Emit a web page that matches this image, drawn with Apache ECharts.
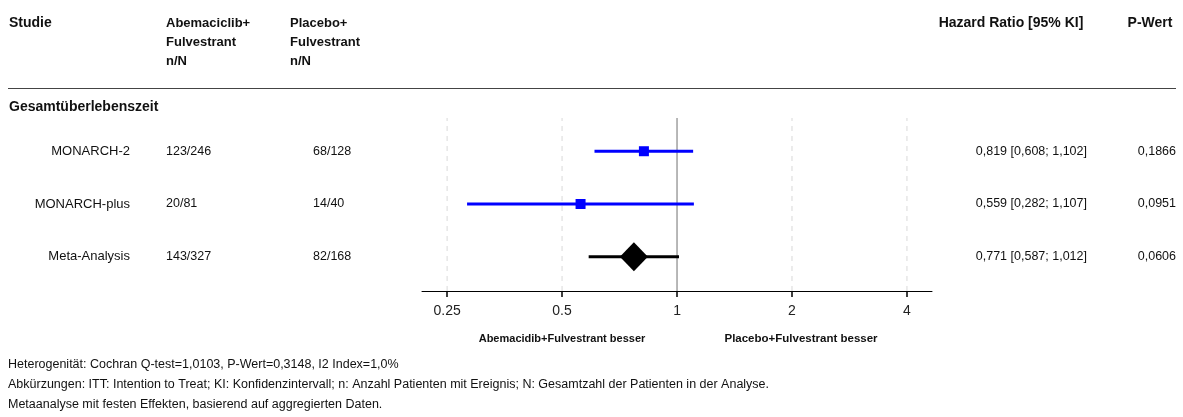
<!DOCTYPE html>
<html>
<head>
<meta charset="utf-8">
<script src="https://cdn.jsdelivr.net/npm/echarts@6/dist/echarts.min.js"></script>
<style>
  html, body { margin: 0; padding: 0; background: #fff; }
  #chart { width: 1183px; height: 417px; }
</style>
</head>
<body>
<div id="chart"></div>
<script>
// Forest plot: overall survival, Abemaciclib+Fulvestrant vs Placebo+Fulvestrant
const studies = ['MONARCH-2', 'MONARCH-plus', 'Meta-Analysis'];
const armA = ['123/246', '20/81', '143/327'];
const armB = ['68/128', '14/40', '82/168'];
const hr = [0.819, 0.559, 0.771];
const ciLow = [0.608, 0.282, 0.587];
const ciHigh = [1.102, 1.107, 1.012];
const pValues = ['0,1866', '0,0951', '0,0606'];
const pooled = [false, false, true];
const rowPos = [3, 2, 1];
const xTicks = [0.25, 0.5, 1, 2, 4];
const refLines = [0.25, 0.5, 2, 4];

const headers = {
  study: 'Studie',
  armA: ['Abemaciclib+', 'Fulvestrant', 'n/N'],
  armB: ['Placebo+', 'Fulvestrant', 'n/N'],
  hr: 'Hazard Ratio [95% KI]',
  p: 'P-Wert'
};
const section = 'Gesamtüberlebenszeit';
const favourLeft = 'Abemacidib+Fulvestrant besser';
const favourRight = 'Placebo+Fulvestrant besser';
const footnotes = [
  'Heterogenität: Cochran Q-test=1,0103, P-Wert=0,3148, I2 Index=1,0%',
  'Abkürzungen: ITT: Intention to Treat; KI: Konfidenzintervall; n: Anzahl Patienten mit Ereignis; N: Gesamtzahl der Patienten in der Analyse.',
  'Metaanalyse mit festen Effekten, basierend auf aggregierten Daten.'
];

const FONT = '"Liberation Sans", Arial, sans-serif';
const yMin = 0.35, yMax = 3.63;
const fmt = v => v.toFixed(3).replace('.', ',');
const hrText = hr.map((v, i) => fmt(v) + ' [' + fmt(ciLow[i]) + '; ' + fmt(ciHigh[i]) + ']');

const chart = echarts.init(document.getElementById('chart'), null, { renderer: 'canvas' });

const vLine = (x, style) => ({
  type: 'line',
  data: [[x, yMin], [x, yMax]],
  symbol: 'none',
  silent: true,
  lineStyle: style,
  z: 1
});

const series = refLines.map(v => vLine(v, { color: '#d9d9d9', width: 1, type: [5, 5] }));
series.push(vLine(1, { color: '#a0a0a0', width: 1.5, type: 'solid' }));
series.push({
  type: 'custom',
  z: 5,
  data: studies.map((s, i) => [ciLow[i], ciHigh[i], hr[i], rowPos[i], pooled[i] ? 1 : 0]),
  encode: { x: [0, 1, 2], y: 3 },
  renderItem: function (params, api) {
    const a = api.coord([api.value(0), api.value(3)]);
    const b = api.coord([api.value(1), api.value(3)]);
    const c = api.coord([api.value(2), api.value(3)]);
    const isPooled = api.value(4) === 1;
    const color = isPooled ? '#000000' : '#0000ff';
    const children = [{
      type: 'line',
      shape: { x1: a[0], y1: a[1], x2: b[0], y2: b[1] },
      style: { stroke: color, lineWidth: 3 }
    }];
    if (isPooled) {
      children.push({
        type: 'polygon',
        shape: { points: [[c[0] - 14, c[1]], [c[0], c[1] - 14.5], [c[0] + 14, c[1]], [c[0], c[1] + 14.5]] },
        style: { fill: color }
      });
    } else {
      children.push({
        type: 'rect',
        shape: { x: c[0] - 5, y: c[1] - 5, width: 10, height: 10 },
        style: { fill: color }
      });
    }
    return { type: 'group', children: children };
  }
});

chart.setOption({
  animation: false,
  backgroundColor: '#ffffff',
  grid: { left: 422, right: 251, top: 118, bottom: 126 },
  xAxis: {
    type: 'log',
    logBase: 2,
    min: 0.2149,
    max: 4.652,
    axisLine: { lineStyle: { color: '#000', width: 1 } },
    axisTick: { customValues: xTicks, length: 6, lineStyle: { color: '#000', width: 1.5 } },
    axisLabel: {
      customValues: xTicks,
      formatter: v => String(+(+v).toPrecision(6)),
      fontFamily: FONT, fontSize: 14, color: '#222', margin: 13
    },
    splitLine: { show: false },
    minorTick: { show: false }
  },
  yAxis: { type: 'value', min: yMin, max: yMax, show: false },
  series: series
});

// Table text placed beside the plot rows
const txt = (x, y, text, opts) => ({
  type: 'text', x: x, y: y, silent: true,
  style: Object.assign({
    text: text, fontFamily: FONT, fontSize: 12.5, fill: '#111',
    align: 'left', verticalAlign: 'middle'
  }, opts || {})
});
const bold = { fontWeight: 'bold', fontSize: 13 };
const boldWide = { fontWeight: 'bold', fontSize: 14, align: 'center' };
const colA = 166, colB = 290, dataB = 313;
const elements = [];
elements.push(txt(9, 23, headers.study, { fontWeight: 'bold', fontSize: 14 }));
headers.armA.forEach((t, k) => elements.push(txt(colA, 23 + k * 19, t, bold)));
headers.armB.forEach((t, k) => elements.push(txt(colB, 23 + k * 19, t, bold)));
elements.push(txt(1011, 23, headers.hr, boldWide));
elements.push(txt(1150, 23, headers.p, boldWide));
elements.push({
  type: 'line', silent: true,
  shape: { x1: 8, y1: 88.5, x2: 1176, y2: 88.5 },
  style: { stroke: '#444', lineWidth: 1 }
});
elements.push(txt(9, 107, section, { fontWeight: 'bold', fontSize: 14 }));
studies.forEach((s, i) => {
  const y = chart.convertToPixel({ gridIndex: 0 }, [1, rowPos[i]])[1];
  elements.push(txt(130, y, s, { align: 'right', fontSize: 13 }));
  elements.push(txt(colA, y, armA[i]));
  elements.push(txt(dataB, y, armB[i]));
  elements.push(txt(1087, y, hrText[i], { align: 'right' }));
  elements.push(txt(1176, y, pValues[i], { align: 'right' }));
});
elements.push(txt(562, 339, favourLeft, { align: 'center', fontWeight: 'bold', fontSize: 11 }));
elements.push(txt(801, 339, favourRight, { align: 'center', fontWeight: 'bold', fontSize: 11.5 }));
footnotes.forEach((t, k) => elements.push(txt(8, 365 + k * 20, t, { fontSize: 12.5 })));

chart.setOption({ graphic: { elements: elements } });
</script>
</body>
</html>
